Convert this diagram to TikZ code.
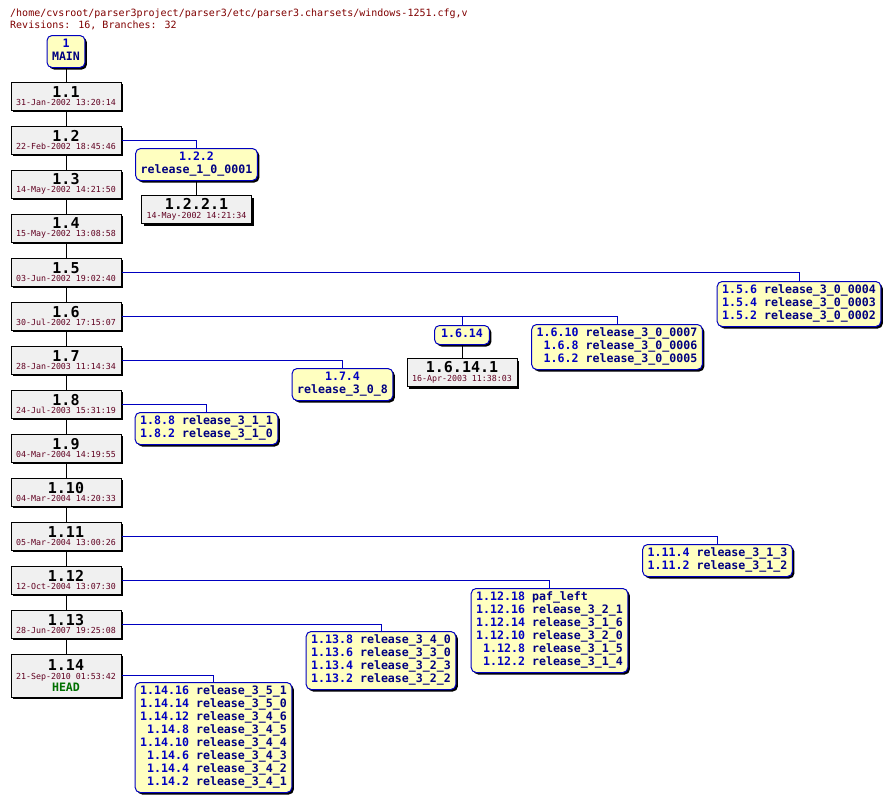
\documentclass[tikz,border=0pt]{standalone}
\usepackage{fontspec}
\usepackage{array}
\usetikzlibrary{shadows}
\newfontfamily\cvsmono{DejaVu Sans Mono}
\definecolor{revbg}{RGB}{240,240,240}
\definecolor{brbg}{RGB}{255,255,192}
\definecolor{brnum}{RGB}{0,0,192}
\definecolor{brtag}{RGB}{0,0,128}
\definecolor{datec}{RGB}{96,0,32}
\definecolor{titlec}{RGB}{128,0,0}
\definecolor{headc}{RGB}{0,112,0}
\newcommand{\revfnt}{\cvsmono\bfseries\fontsize{15}{15}\selectfont}
\newcommand{\datefnt}{\cvsmono\fontsize{8.3}{8.5}\selectfont}
\newcommand{\tagfnt}{\cvsmono\bfseries\fontsize{11.6}{13}\selectfont}
\newcommand{\brtab}[1]{\begin{tabular}{@{}>{\color{brnum}}r@{\hspace{7pt}}>{\color{brtag}}l@{}}#1\end{tabular}}
\newcommand{\brstack}[2]{\begin{tabular}{@{}c@{}}\color{brnum}#1\\\color{brtag}#2\end{tabular}}

\begin{document}
\begin{tikzpicture}[x=1pt, y=-1pt,
    rev/.style={draw, fill=revbg, line width=1pt, minimum width=110pt, minimum height=28pt,
      inner sep=1pt, align=center, font=\datefnt,
      drop shadow={shadow xshift=2pt, shadow yshift=-2pt, opacity=1, fill=black}},
    br/.style={draw=brnum, fill=brbg, line width=1pt, rounded corners=5pt, inner xsep=5pt,
      inner ysep=3pt, font=\tagfnt, anchor=north,
      drop shadow={shadow xshift=2pt, shadow yshift=-2pt, opacity=1, fill=black}},
    brline/.style={brnum, line width=1pt},
    trunk/.style={line width=1pt}]
  \path[fill=white] (0,0) rectangle (891,803);

  \node[anchor=base west, inner sep=0, titlec, font=\cvsmono\fontsize{10}{12}\selectfont] (path) at (10,16.5)
    {/home/cvsroot/parser3project/parser3/etc/parser3.charsets/windows-1251.cfg,v};
  \node[anchor=base west, inner sep=0, titlec, font=\cvsmono\fontsize{10}{12}\selectfont] (stats) at (10,28.5)
    {Revisions: 16, Branches: 32};

  % trunk
  \node[br] (main) at (66,35) {\brstack{1}{MAIN}};
  \node[rev] (v1) at (66,96) {{\revfnt 1.1}\\\textcolor{datec}{31-Jan-2002 13:20:14}};
  \node[rev] (v2) at (66,140) {{\revfnt 1.2}\\\textcolor{datec}{22-Feb-2002 18:45:46}};
  \node[rev] (v3) at (66,184) {{\revfnt 1.3}\\\textcolor{datec}{14-May-2002 14:21:50}};
  \node[rev] (v4) at (66,228) {{\revfnt 1.4}\\\textcolor{datec}{15-May-2002 13:08:58}};
  \node[rev] (v5) at (66,272) {{\revfnt 1.5}\\\textcolor{datec}{03-Jun-2002 19:02:40}};
  \node[rev] (v6) at (66,316) {{\revfnt 1.6}\\\textcolor{datec}{30-Jul-2002 17:15:07}};
  \node[rev] (v7) at (66,360) {{\revfnt 1.7}\\\textcolor{datec}{28-Jan-2003 11:14:34}};
  \node[rev] (v8) at (66,404) {{\revfnt 1.8}\\\textcolor{datec}{24-Jul-2003 15:31:19}};
  \node[rev] (v9) at (66,448) {{\revfnt 1.9}\\\textcolor{datec}{04-Mar-2004 14:19:55}};
  \node[rev] (v10) at (66,492) {{\revfnt 1.10}\\\textcolor{datec}{04-Mar-2004 14:20:33}};
  \node[rev] (v11) at (66,536) {{\revfnt 1.11}\\\textcolor{datec}{05-Mar-2004 13:00:26}};
  \node[rev] (v12) at (66,580) {{\revfnt 1.12}\\\textcolor{datec}{12-Oct-2004 13:07:30}};
  \node[rev] (v13) at (66,624) {{\revfnt 1.13}\\\textcolor{datec}{28-Jun-2007 19:25:08}};
  \node[rev, minimum height=43pt] (v14) at (66,675.5)
    {{\revfnt 1.14}\\\textcolor{datec}{21-Sep-2010 01:53:42}\\[1pt]{\tagfnt\color{headc}HEAD}};
  \draw[trunk] (main) -- (v1) -- (v2) -- (v3) -- (v4) -- (v5) -- (v6) -- (v7) -- (v8) -- (v9)
    -- (v10) -- (v11) -- (v12) -- (v13) -- (v14);

  % branches
  \node[br] (b122) at (196.5,148) {\brstack{1.2.2}{release\_1\_0\_0001}};
  \node[rev, anchor=north] (v1221) at (196.5,195) {{\revfnt 1.2.2.1}\\\textcolor{datec}{14-May-2002 14:21:34}};
  \node[br] (b15) at (799,281) {\brtab{1.5.6&release\_3\_0\_0004\\1.5.4&release\_3\_0\_0003\\1.5.2&release\_3\_0\_0002}};
  \node[br, inner xsep=6.5pt] (b1614) at (462,325) {\begin{tabular}{@{}c@{}}\color{brnum}1.6.14\end{tabular}};
  \node[rev, anchor=north] (v16141) at (462,358) {{\revfnt 1.6.14.1}\\\textcolor{datec}{16-Apr-2003 11:38:03}};
  \node[br] (b16) at (617,324) {\brtab{1.6.10&release\_3\_0\_0007\\1.6.8&release\_3\_0\_0006\\1.6.2&release\_3\_0\_0005}};
  \node[br] (b174) at (342.5,368) {\brstack{1.7.4}{release\_3\_0\_8}};
  \node[br] (b18) at (206.5,412) {\brtab{1.8.8&release\_3\_1\_1\\1.8.2&release\_3\_1\_0}};
  \node[br] (b111) at (717.5,544) {\brtab{1.11.4&release\_3\_1\_3\\1.11.2&release\_3\_1\_2}};
  \node[br] (b112) at (549.5,588) {\brtab{1.12.18&paf\_left\\1.12.16&release\_3\_2\_1\\1.12.14&release\_3\_1\_6\\
    1.12.10&release\_3\_2\_0\\1.12.8&release\_3\_1\_5\\1.12.2&release\_3\_1\_4}};
  \node[br] (b113) at (381,631) {\brtab{1.13.8&release\_3\_4\_0\\1.13.6&release\_3\_3\_0\\1.13.4&release\_3\_2\_3\\
    1.13.2&release\_3\_2\_2}};
  \node[br] (b114) at (213.5,682) {\brtab{1.14.16&release\_3\_5\_1\\1.14.14&release\_3\_5\_0\\1.14.12&release\_3\_4\_6\\
    1.14.8&release\_3\_4\_5\\1.14.10&release\_3\_4\_4\\1.14.6&release\_3\_4\_3\\1.14.4&release\_3\_4\_2\\
    1.14.2&release\_3\_4\_1}};

  \draw[brline] (v2) -| (b122);
  \draw[trunk] (b122) -- (v1221);
  \draw[brline] (v5) -| (b15);
  \draw[brline] (v6) -| (b1614);
  \draw[brline] (v6) -| (b16);
  \draw[trunk] (b1614) -- (v16141);
  \draw[brline] (v7) -| (b174);
  \draw[brline] (v8) -| (b18);
  \draw[brline] (v11) -| (b111);
  \draw[brline] (v12) -| (b112);
  \draw[brline] (v13) -| (b113);
  \draw[brline] (v14) -| (b114);
\end{tikzpicture}
\end{document}
